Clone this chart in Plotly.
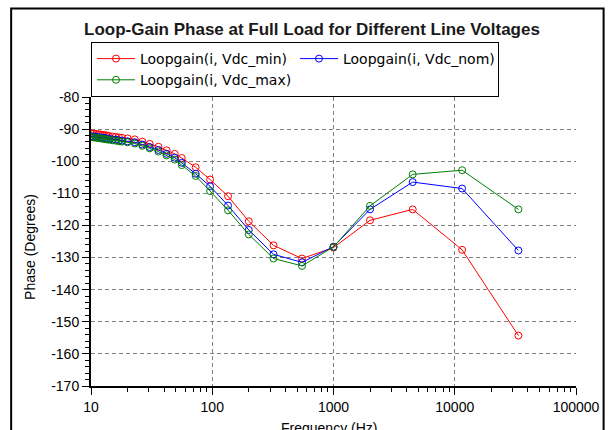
import plotly.graph_objects as go

# Frequency sweep points (Hz)
freq_hz = [10, 10.5, 11, 11.5, 12, 12.5, 13, 13.5, 14, 15, 16, 17, 18, 20, 23,
           26.5, 30.5, 36, 42, 49, 56, 73, 96, 135, 200, 320, 550, 1000, 2000,
           4500, 11500, 33500]

# Loop-gain phase (degrees) for each line voltage
phase_vdc_min = [-91.3, -91.4, -91.5, -91.6, -91.7, -91.8, -91.9, -92.0, -92.1,
                 -92.3, -92.4, -92.6, -92.7, -92.9, -93.2, -93.9, -94.6, -95.5,
                 -96.6, -97.7, -99.0, -101.9, -105.7, -110.9, -118.7, -126.2,
                 -130.3, -126.9, -118.4, -115.0, -127.6, -154.3]
phase_vdc_nom = [-92.2, -92.3, -92.4, -92.5, -92.6, -92.7, -92.8, -92.9, -93.0,
                 -93.2, -93.3, -93.5, -93.6, -93.8, -94.1, -94.8, -95.6, -96.5,
                 -97.7, -98.9, -100.5, -103.9, -107.8, -113.8, -121.4, -129.0,
                 -131.5, -126.6, -115.0, -106.5, -108.5, -127.8]
phase_vdc_max = [-92.5, -92.6, -92.7, -92.8, -92.9, -93.0, -93.1, -93.2, -93.3,
                 -93.5, -93.6, -93.8, -93.9, -94.1, -94.5, -95.2, -96.0, -97.0,
                 -98.2, -99.5, -101.2, -104.6, -109.3, -115.3, -122.8, -130.3,
                 -132.6, -126.7, -113.9, -104.1, -102.8, -115.0]

series_names = ["Loopgain(i, Vdc_min)", "Loopgain(i, Vdc_nom)", "Loopgain(i, Vdc_max)"]

x_tick_vals = [10, 100, 1000, 10000, 100000]
x_tick_text = ["10", "100", "1000", "10000", "100000"]
y_tick_vals = [-170, -160, -150, -140, -130, -120, -110, -100, -90, -80]
y_tick_text = ["-170", "-160", "-150", "-140", "-130", "-120", "-110", "-100", "-90", "-80"]

FONT = "Liberation Sans, Arial, sans-serif"
W, H = 612, 430
M_L, M_R, M_T, M_B = 91, 29, 97, 44
PW = W - M_L - M_R
PH = H - M_T - M_B


def px_x(p):
    return (p - M_L) / PW


def px_y(p):
    return (H - M_B - p) / PH


fig = go.Figure()
for name, ys, col in zip(series_names,
                         [phase_vdc_min, phase_vdc_nom, phase_vdc_max],
                         ["#ff0000", "#0000ff", "#008000"]):
    fig.add_trace(go.Scatter(
        x=freq_hz, y=ys, name=name, mode="lines+markers",
        line=dict(color=col, width=1),
        marker=dict(symbol="circle-open", size=7, color=col, line=dict(width=1, color=col)),
    ))

grid = dict(showgrid=True, gridcolor="#808080", gridwidth=1, griddash="4px,3px")

fig.update_layout(
    width=W, height=H,
    margin=dict(l=M_L, r=M_R, t=M_T, b=M_B),
    paper_bgcolor="white", plot_bgcolor="white",
    font=dict(family=FONT, size=14, color="black"),
    showlegend=True,
    legend=dict(
        orientation="h", x=0, xanchor="left", y=px_y(42), yanchor="top",
        bordercolor="black", borderwidth=1, bgcolor="white",
        itemwidth=38, entrywidth=150, entrywidthmode="pixels",
        font=dict(family="DejaVu Sans, sans-serif", size=14, color="black"),
        tracegroupgap=0,
    ),
    xaxis=dict(
        type="log", range=[1, 5],
        tickvals=x_tick_vals, ticktext=x_tick_text,
        ticks="outside", ticklen=7, tickcolor="black", tickwidth=1,
        minor=dict(ticks="outside", ticklen=4, tickcolor="black", dtick="D1", showgrid=False),
        showline=True, linecolor="black", linewidth=2,
        zeroline=False, **grid,
    ),
    yaxis=dict(
        range=[-170, -80],
        tickvals=y_tick_vals, ticktext=y_tick_text,
        ticks="outside", ticklen=7, tickcolor="black", tickwidth=1,
        minor=dict(ticks="outside", ticklen=4, tickcolor="black", dtick=2, showgrid=False),
        showline=True, linecolor="black", linewidth=2,
        zeroline=False, **grid,
    ),
    # second pair of axes carries the inward half of the crossing tick marks
    xaxis2=dict(
        type="log", range=[1, 5], overlaying="x", anchor="y", side="bottom",
        tickvals=x_tick_vals, showticklabels=False,
        ticks="inside", ticklen=7, tickcolor="black", tickwidth=1,
        minor=dict(ticks="inside", ticklen=4, tickcolor="black", dtick="D1", showgrid=False),
        showgrid=False, showline=False, zeroline=False,
    ),
    yaxis2=dict(
        range=[-170, -80], overlaying="y", anchor="x", side="left",
        tickvals=y_tick_vals, showticklabels=False,
        ticks="inside", ticklen=7, tickcolor="black", tickwidth=1,
        minor=dict(ticks="inside", ticklen=4, tickcolor="black", dtick=2, showgrid=False),
        showgrid=False, showline=False, zeroline=False,
    ),
)

# chart title and axis titles
fig.add_annotation(
    text="<b>Loop-Gain Phase at Full Load for Different Line Voltages</b>",
    xref="paper", yref="paper", x=px_x(315), y=px_y(29.5),
    xanchor="center", yanchor="middle", showarrow=False,
    font=dict(family=FONT, size=17, color="#1a1a1a"),
)
fig.add_annotation(
    text="Phase (Degrees)", textangle=-90,
    xref="paper", yref="paper", x=px_x(29), y=px_y(247),
    xanchor="center", yanchor="middle", showarrow=False,
    font=dict(family=FONT, size=14, color="black"),
)
fig.add_annotation(
    text="Frequency (Hz)",
    xref="paper", yref="paper", x=px_x(332), y=px_y(418),
    xanchor="center", yanchor="top", showarrow=False,
    font=dict(family=FONT, size=14, color="black"),
)

# outer frame around the chart
fig.add_shape(
    type="rect", xref="paper", yref="paper",
    x0=px_x(10), x1=px_x(611), y0=px_y(440), y1=px_y(8.5),
    line=dict(color="black", width=2), fillcolor="rgba(0,0,0,0)", layer="below",
)

fig.write_html("out.html")
